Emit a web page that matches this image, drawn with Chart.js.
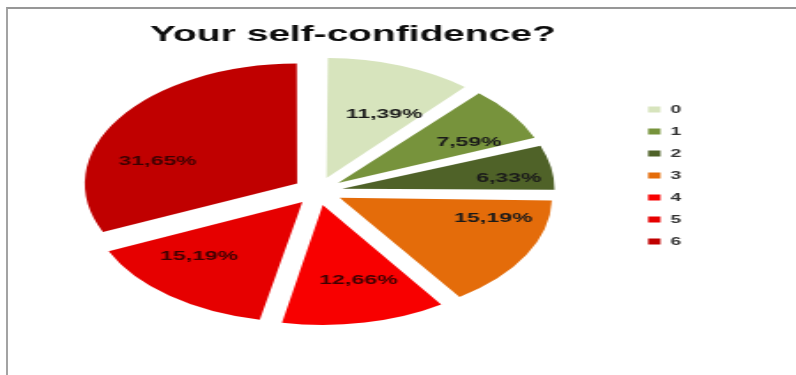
<!DOCTYPE html>
<html>
<head>
<meta charset="utf-8">
<script src="https://cdn.jsdelivr.net/npm/chart.js@4/dist/chart.umd.min.js"></script>
<style>
  html, body { margin: 0; padding: 0; background: #ffffff; overflow: hidden; }
  body { width: 796px; height: 375px; position: relative; }
  #frame { position: absolute; left: 6px; top: 7px; width: 820px; height: 400px;
           border-left: 2px solid #a3a3a3; border-top: 2px solid #979797; }
  #wrap { position: absolute; left: 0; top: 0; width: 450px; height: 375px;
          transform-origin: 0 0; transform: scaleX(1.7689); }
</style>
</head>
<body>
<div id="frame"></div>
<div id="wrap"><canvas id="c" width="450" height="375"></canvas></div>
<script>
// ---- data ----
const titleText = 'Your self-confidence?';
const categories = ['0', '1', '2', '3', '4', '5', '6'];
const percentages = [11.39, 7.59, 6.33, 15.19, 12.66, 15.19, 31.65];

// ---- styling ----
const sliceColors = ['#d7e4bd', '#77933c', '#4f6228', '#e46c0a', '#f80000', '#e60000', '#c00000'];
const labelColors = ['#1a1a1a', '#1a1a1a', '#1a1a1a', '#1a1a1a', '#3d0000', '#3d0000', '#3d0000'];
const labelAngleFrac = [0.66, 0.75, 0.69, 0.22, 0.42, 0.65, 0.35];
const labelRadiusFrac = [0.62, 0.75, 0.85, 0.76, 0.67, 0.68, 0.69];
const explode = 56; // Chart.js offset (translation = offset / 4)

const fmt = v => v.toFixed(2).replace('.', ',') + '%';

const keepRadius = {
  id: 'keepRadius',
  afterDatasetUpdate(chart, args) {
    const meta = chart.getDatasetMeta(args.index);
    meta.data.forEach(arc => {
      const off = (arc.options && arc.options.offset || 0) / 4;
      const fix = 1 - Math.sin(Math.min(Math.PI, arc.circumference || 0));
      arc.outerRadius = arc.outerRadius - off * fix;
    });
  }
};

const sliceLabels = {
  id: 'sliceLabels',
  afterDatasetsDraw(chart) {
    const ctx = chart.ctx;
    const meta = chart.getDatasetMeta(0);
    ctx.save();
    ctx.font = 'bold 13px "Liberation Sans", Arial, sans-serif';
    ctx.textAlign = 'center';
    ctx.textBaseline = 'middle';
    meta.data.forEach((arc, i) => {
      const {x, y, startAngle, endAngle, outerRadius} = arc;
      const mid = (startAngle + endAngle) / 2;
      const tr = (arc.options.offset || 0) / 4;
      const vx = x + Math.cos(mid) * tr;
      const vy = y + Math.sin(mid) * tr;
      const a = startAngle + (endAngle - startAngle) * labelAngleFrac[i];
      const r = outerRadius * labelRadiusFrac[i];
      ctx.fillStyle = labelColors[i];
      ctx.fillText(fmt(percentages[i]), vx + Math.cos(a) * r, vy + Math.sin(a) * r);
    });
    ctx.restore();
  }
};

new Chart(document.getElementById('c'), {
  type: 'pie',
  data: {
    labels: categories,
    datasets: [{
      data: percentages,
      backgroundColor: sliceColors,
      borderWidth: 0,
      offset: explode
    }]
  },
  options: {
    responsive: false,
    animation: false,
    events: [],
    radius: 120,
    layout: { padding: { left: 4, right: 55, top: 12, bottom: 51 } },
    plugins: {
      tooltip: { enabled: false },
      title: {
        display: true,
        text: titleText,
        color: '#0d0d0d',
        font: { family: '"Liberation Sans", Arial, sans-serif', size: 22, weight: 'bold' },
        padding: { top: 10, bottom: 10 }
      },
      legend: {
        position: 'right',
        align: 'center',
        title: { display: true, text: ' ', font: { size: 10 }, padding: { top: 3, bottom: 0 } },
        labels: {
          boxWidth: 7,
          boxHeight: 6,
          padding: 11,
          color: '#333333',
          font: { family: '"Liberation Sans", Arial, sans-serif', size: 11, weight: 'bold' }
        }
      }
    }
  },
  plugins: [keepRadius, sliceLabels]
});
</script>
</body>
</html>
